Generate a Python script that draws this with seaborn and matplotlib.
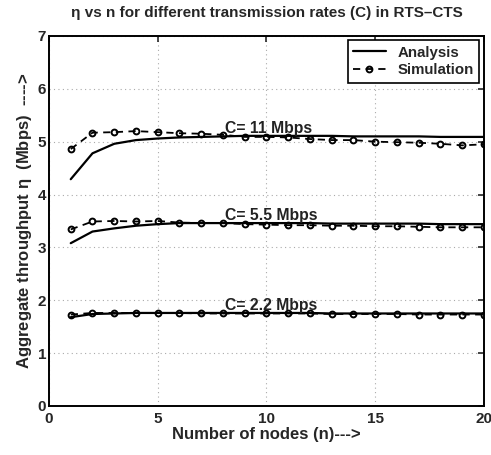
import numpy as np
import pandas as pd
import matplotlib
matplotlib.use("Agg")
import matplotlib.pyplot as plt
import seaborn as sns

nodes = list(range(1, 21))
rates = ["C= 11 Mbps", "C= 5.5 Mbps", "C= 2.2 Mbps"]

analysis_11 = [4.29, 4.78, 4.96, 5.03, 5.06, 5.08, 5.09, 5.10, 5.11, 5.11,
               5.11, 5.11, 5.11, 5.10, 5.10, 5.10, 5.10, 5.09, 5.09, 5.09]
simulation_11 = [4.86, 5.17, 5.18, 5.20, 5.18, 5.16, 5.15, 5.13, 5.09, 5.09,
                 5.08, 5.05, 5.03, 5.03, 5.00, 4.99, 4.98, 4.96, 4.93, 4.95]
analysis_55 = [3.08, 3.30, 3.36, 3.41, 3.44, 3.46, 3.46, 3.46, 3.46, 3.46,
               3.46, 3.46, 3.45, 3.45, 3.45, 3.45, 3.45, 3.44, 3.44, 3.44]
simulation_55 = [3.34, 3.49, 3.50, 3.49, 3.50, 3.47, 3.46, 3.46, 3.44, 3.43,
                 3.42, 3.42, 3.41, 3.41, 3.40, 3.40, 3.39, 3.38, 3.38, 3.38]
analysis_22 = [1.68, 1.74, 1.75, 1.76, 1.76, 1.76, 1.76, 1.76, 1.76, 1.76,
               1.76, 1.76, 1.75, 1.75, 1.75, 1.75, 1.75, 1.75, 1.75, 1.75]
simulation_22 = [1.73, 1.76, 1.76, 1.76, 1.76, 1.76, 1.75, 1.75, 1.75, 1.75,
                 1.75, 1.75, 1.74, 1.74, 1.74, 1.74, 1.73, 1.73, 1.73, 1.73]
label_pos = [(8.1, 5.17), (8.1, 3.52), (8.1, 1.82)]

sns.set_style("white")
plt.rcParams['font.family'] = ['Liberation Sans', 'DejaVu Sans']
plt.rcParams['mathtext.default'] = 'regular'

fig = plt.figure(figsize=(4.91, 4.55), dpi=100)
ax = fig.add_axes([0.0998, 0.1077, 0.8859, 0.8133])

series = [(analysis_11, simulation_11), (analysis_55, simulation_55), (analysis_22, simulation_22)]
for i, (an, sim) in enumerate(series):
    df = pd.DataFrame({"n": nodes, "Analysis": an, "Simulation": sim})
    sns.lineplot(data=df, x="n", y="Analysis", ax=ax, color="black", lw=1.6,
                 label="Analysis" if i == 0 else None, legend=False)
    sns.lineplot(data=df, x="n", y="Simulation", ax=ax, color="black", lw=1.3,
                 marker="o", markersize=4.2, markerfacecolor="none",
                 markeredgecolor="black", markeredgewidth=1.4,
                 dashes=False, linestyle=(0, (4, 3)),
                 label="Simulation" if i == 0 else None, legend=False)
    ax.text(label_pos[i][0], label_pos[i][1], rates[i], fontsize=11.3,
            fontweight="bold", ha="left", va="baseline", color="#222222")

ax.set_xlim(0, 20)
ax.set_ylim(0, 7)
ax.set_xticks([0, 5, 10, 15, 20])
ax.set_yticks(range(0, 8))
ax.grid(True, linestyle=(0, (1, 3)), color="#aaaaaa", lw=0.8)
ax.tick_params(direction="in", length=4, width=1.2, top=True, right=True,
               labelsize=11)
ax.tick_params(axis="x", pad=4)
ax.tick_params(axis="y", pad=2)
for lab in ax.get_xticklabels() + ax.get_yticklabels():
    lab.set_fontweight("bold")
for sp in ax.spines.values():
    sp.set_linewidth(1.4)
    sp.set_color("black")

ax.set_xlabel("Number of nodes (n)--->", fontsize=12, fontweight="bold", labelpad=1)
ax.set_ylabel(r"Aggregate throughput $\eta$  (Mbps)  ---->", fontsize=12,
              fontweight="bold", labelpad=3)
ax.set_title("\u03b7 vs n for different transmission rates (C) in RTS\u2013CTS",
             fontsize=11, fontweight="bold", pad=14)

handles, labels = ax.get_legend_handles_labels()
leg = ax.legend(handles, labels, loc="upper right", frameon=True, fancybox=False,
                edgecolor="black", framealpha=1,
                prop={"weight": "bold", "size": 10.8}, handlelength=2.2,
                borderpad=0.35, labelspacing=0.25, borderaxespad=0.3)
leg.get_frame().set_linewidth(1.2)

fig.savefig("out.png", dpi=100)
